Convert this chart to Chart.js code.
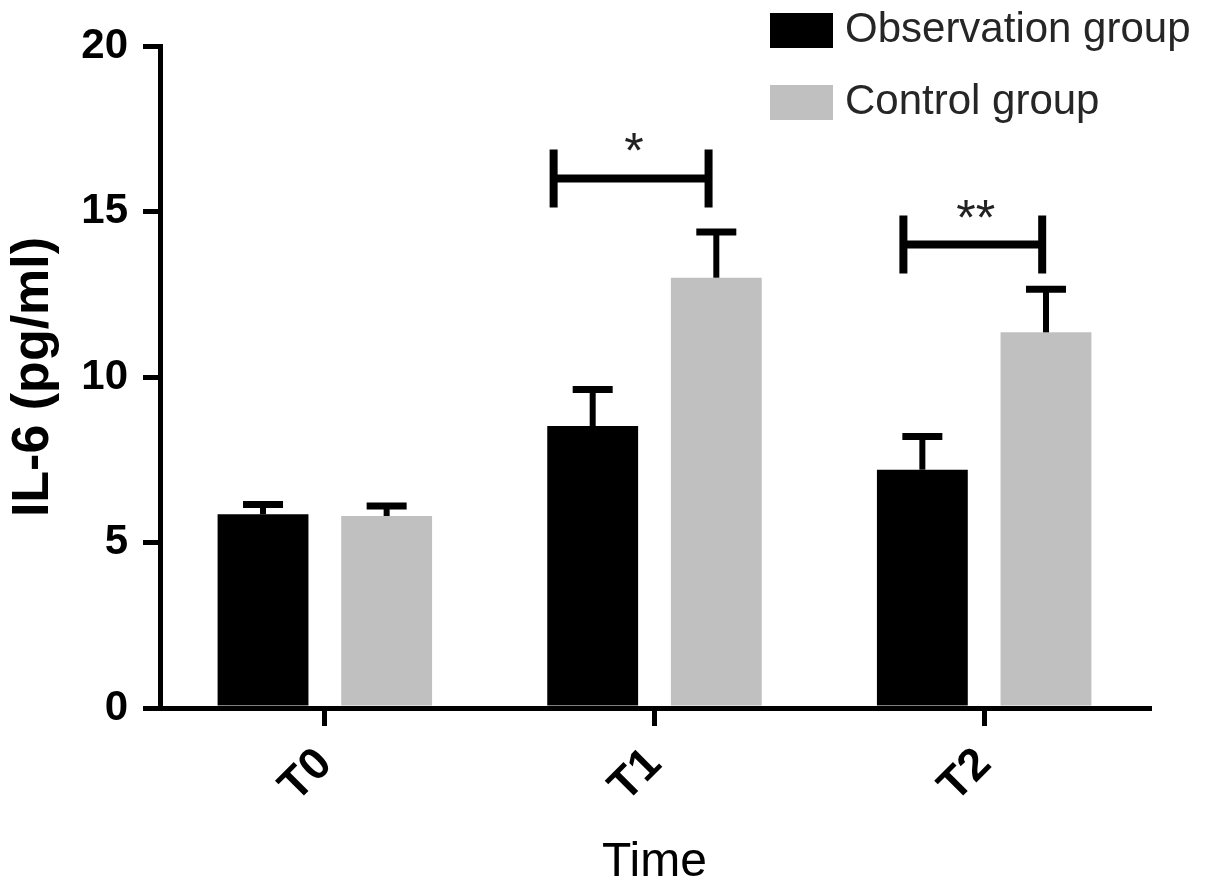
<!DOCTYPE html>
<html><head><meta charset="utf-8">
<script src="https://cdn.jsdelivr.net/npm/chart.js@4.4.1/dist/chart.umd.min.js"></script>
<style>html,body{margin:0;padding:0;background:#fff;overflow:hidden}#wrap{width:1205px;height:894px;position:relative}</style>
</head><body><div id="wrap"><canvas id="c" width="1205" height="894"></canvas></div>
<script>
const categories = ['T0', 'T1', 'T2'];
const seriesNames = ['Observation group', 'Control group'];
const observationMean = [5.85, 8.52, 7.2];
const observationSD = [0.30, 1.10, 1.00];
const controlMean = [5.80, 13.0, 11.35];
const controlSD = [0.30, 1.38, 1.30];
const yTicks = [0, 5, 10, 15, 20];
const sigMarks = ['', '*', '**'];
const sigLevel = [null, 16, 14];

const FONT = '"Liberation Sans", Arial, Helvetica, sans-serif';

const errorBarPlugin = {
  id: 'errorBars',
  afterDatasetsDraw(chart, args, opts) {
    const ctx = chart.ctx, ys = chart.scales.y;
    chart.data.datasets.forEach((ds, di) => {
      const meta = chart.getDatasetMeta(di);
      meta.data.forEach((bar, i) => {
        const top = ys.getPixelForValue(ds.data[i] + ds.errors[i]);
        ctx.save();
        ctx.strokeStyle = opts.color;
        ctx.lineCap = 'butt';
        ctx.lineWidth = opts.stemWidth;
        ctx.beginPath(); ctx.moveTo(bar.x, bar.y); ctx.lineTo(bar.x, top); ctx.stroke();
        ctx.lineWidth = opts.capThickness;
        ctx.beginPath(); ctx.moveTo(bar.x - opts.capWidth / 2, top); ctx.lineTo(bar.x + opts.capWidth / 2, top); ctx.stroke();
        ctx.restore();
      });
    });
  }
};

const bracketPlugin = {
  id: 'brackets',
  afterDatasetsDraw(chart, args, opts) {
    const ctx = chart.ctx, xs = chart.scales.x, ys = chart.scales.y;
    const catW = xs.width / categories.length;
    sigLevel.forEach((lvl, i) => {
      if (lvl == null) return;
      const cx = xs.getPixelForValue(i);
      const x1 = cx + opts.spans[i][0] * catW, x2 = cx + opts.spans[i][1] * catW;
      const yy = ys.getPixelForValue(lvl);
      ctx.save();
      ctx.strokeStyle = opts.color;
      ctx.lineWidth = opts.lineWidth;
      ctx.beginPath(); ctx.moveTo(x1, yy); ctx.lineTo(x2, yy); ctx.stroke();
      ctx.beginPath();
      ctx.moveTo(x1, yy - opts.tick); ctx.lineTo(x1, yy + opts.tick);
      ctx.moveTo(x2, yy - opts.tick); ctx.lineTo(x2, yy + opts.tick);
      ctx.stroke();
      ctx.fillStyle = opts.textColor;
      ctx.font = opts.font;
      ctx.textAlign = 'center';
      ctx.textBaseline = 'alphabetic';
      ctx.fillText(sigMarks[i], (x1 + x2) / 2 + 3, yy - opts.textGap);
      ctx.restore();
    });
  }
};

const legendPlugin = {
  id: 'customLegend',
  afterDraw(chart, args, opts) {
    const ctx = chart.ctx;
    chart.data.datasets.forEach((ds, i) => {
      const y = opts.y + i * opts.rowGap;
      ctx.save();
      ctx.fillStyle = ds.backgroundColor;
      ctx.fillRect(opts.x, y, opts.boxW, opts.boxH);
      ctx.fillStyle = opts.textColor;
      ctx.font = opts.font;
      ctx.textAlign = 'left';
      ctx.textBaseline = 'middle';
      ctx.fillText(ds.label, opts.x + opts.boxW + opts.gap, y + opts.boxH / 2);
      ctx.restore();
    });
  }
};

new Chart(document.getElementById('c'), {
  type: 'bar',
  data: {
    labels: categories,
    datasets: [
      { label: seriesNames[0], data: observationMean, errors: observationSD, backgroundColor: '#000000', borderWidth: 0 },
      { label: seriesNames[1], data: controlMean, errors: controlSD, backgroundColor: '#c0c0c0', borderWidth: 0 }
    ]
  },
  options: {
    responsive: false,
    devicePixelRatio: 1,
    animation: false,
    categoryPercentage: 0.75,
    barPercentage: 0.735,
    layout: { padding: { top: 46, right: 56, left: 0, bottom: 0 } },
    plugins: {
      legend: { display: false },
      tooltip: { enabled: false },
      errorBars: { color: '#000', stemWidth: 6, capThickness: 7, capWidth: 40 },
      brackets: { color: '#000', lineWidth: 8, tick: 29, textGap: 10, spans: [null, [-0.306, 0.164], [-0.245, 0.176]], textColor: '#222', font: '50px ' + FONT },
      customLegend: { x: 770, y: 13, boxW: 63, boxH: 35, rowGap: 72, gap: 12, textColor: '#262626', font: '42px ' + FONT }
    },
    scales: {
      x: {
        afterFit(s) { s.height = 186; },
        grid: { display: true, drawOnChartArea: false, drawTicks: true, offset: false, tickLength: 18, color: '#000', lineWidth: 5 },
        border: { display: true, color: '#000', width: 5 },
        ticks: { color: '#000', font: { family: FONT, size: 45, weight: 'bold' }, minRotation: 45, maxRotation: 45, padding: 12 },
        title: { display: true, text: 'Time', color: '#000', font: { family: FONT, size: 48, weight: 'normal' }, padding: { top: 0, bottom: 2 } }
      },
      y: {
        min: 0, max: 20,
        afterFit(s) { s.width = 160; },
        afterBuildTicks(s) { s.ticks = yTicks.map(v => ({ value: v })); },
        grid: { display: true, drawOnChartArea: false, drawTicks: true, tickLength: 17, color: '#000', lineWidth: 5 },
        border: { display: true, color: '#000', width: 5 },
        ticks: { color: '#000', font: { family: FONT, size: 42, weight: 'bold' }, padding: 15 },
        title: { display: true, text: 'IL-6 (pg/ml)', color: '#000', font: { family: FONT, size: 52, weight: 'bold' }, padding: { top: 2, bottom: 0 } }
      }
    }
  },
  plugins: [errorBarPlugin, bracketPlugin, legendPlugin]
});
</script></body></html>
